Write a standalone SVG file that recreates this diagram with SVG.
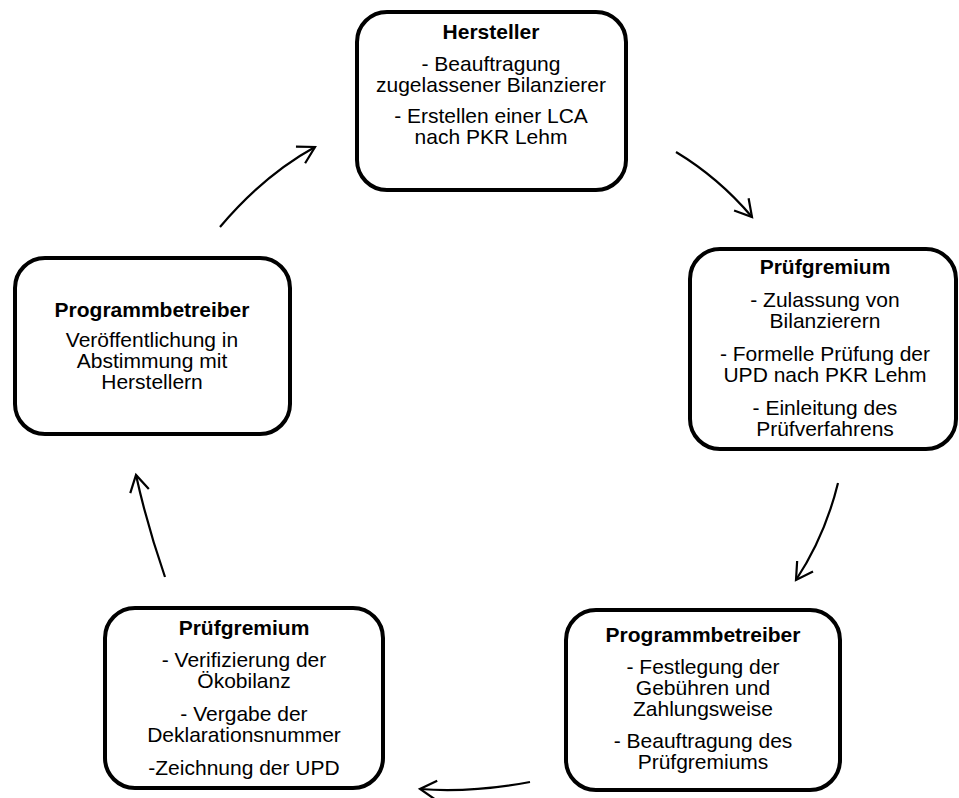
<svg xmlns="http://www.w3.org/2000/svg" width="959" height="798" viewBox="0 0 959 798">
<style>
.box{fill:#fff;stroke:#000;stroke-width:4}
text{font-family:"Liberation Sans",Arial,sans-serif;font-size:21px;fill:#000;text-anchor:middle}
.t{font-weight:bold}
.c{fill:none;stroke:#000;stroke-width:2.2;marker-end:url(#ah)}
</style>
<defs>
<marker id="ah" markerUnits="userSpaceOnUse" markerWidth="30" markerHeight="30" refX="0" refY="0" viewBox="-20 -15 24 30" orient="auto" overflow="visible">
<path d="M-16.5,-9.5 L0,0 L-16.5,9.5" fill="none" stroke="#000" stroke-width="2.2" stroke-linejoin="miter"/>
</marker>
</defs>
<rect width="959" height="798" fill="#fff"/>
<g id="connectors">
<path class="c" d="M220,227 Q264,175 315,147"/>
<path class="c" d="M676,152 Q719,178 752,217"/>
<path class="c" d="M838,483 Q825,536 796,580"/>
<path class="c" d="M530,782 Q470,793 420,789"/>
<path class="c" d="M165,577 Q147,525 136,475"/>
</g>
<g id="hersteller">
<rect class="box" x="357" y="12" width="269" height="178" rx="30"/>
<text class="t" x="491" y="39">Hersteller</text>
<text x="491" y="71">- Beauftragung</text>
<text x="491" y="92">zugelassener Bilanzierer</text>
<text x="491" y="123">- Erstellen einer LCA</text>
<text x="491" y="144">nach PKR Lehm</text>
</g>
<g id="pruefgremium1">
<rect class="box" x="690" y="249" width="266" height="200" rx="30"/>
<text class="t" x="825" y="274">Prüfgremium</text>
<text x="825" y="307">- Zulassung von</text>
<text x="825" y="328">Bilanzierern</text>
<text x="825" y="361">- Formelle Prüfung der</text>
<text x="825" y="382">UPD nach PKR Lehm</text>
<text x="825" y="415">- Einleitung des</text>
<text x="825" y="436">Prüfverfahrens</text>
</g>
<g id="programmbetreiber2">
<rect class="box" x="566" y="610" width="274" height="180" rx="30"/>
<text class="t" x="703" y="642">Programmbetreiber</text>
<text x="703" y="674">- Festlegung der</text>
<text x="703" y="695">Gebühren und</text>
<text x="703" y="716">Zahlungsweise</text>
<text x="703" y="748">- Beauftragung des</text>
<text x="703" y="769">Prüfgremiums</text>
</g>
<g id="pruefgremium2">
<rect class="box" x="105" y="608" width="278" height="180" rx="30"/>
<text class="t" x="244" y="635">Prüfgremium</text>
<text x="244" y="667">- Verifizierung der</text>
<text x="244" y="688">Ökobilanz</text>
<text x="244" y="721">- Vergabe der</text>
<text x="244" y="742">Deklarationsnummer</text>
<text x="244" y="775">-Zeichnung der UPD</text>
</g>
<g id="programmbetreiber1">
<rect class="box" x="15" y="258" width="275" height="176" rx="30"/>
<text class="t" x="152" y="317">Programmbetreiber</text>
<text x="152" y="347">Veröffentlichung in</text>
<text x="152" y="368">Abstimmung mit</text>
<text x="152" y="389">Herstellern</text>
</g>
</svg>
